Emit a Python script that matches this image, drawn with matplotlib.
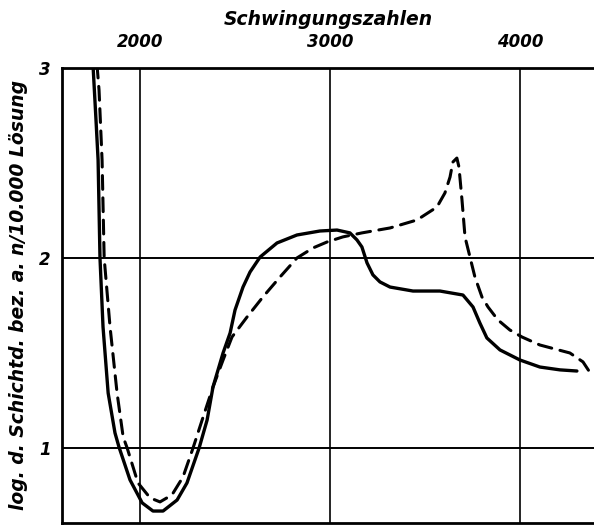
import matplotlib
matplotlib.use("Agg")
import matplotlib.pyplot as plt
from matplotlib.font_manager import FontProperties

# --- data ---
solid_x = [1752, 1768, 1779, 1789, 1805, 1832, 1868, 1889, 1947, 2011, 2068, 2121, 2195, 2247,
           2311, 2353, 2384, 2437, 2474, 2500, 2542, 2579, 2632, 2721, 2826, 2947, 3037, 3105,
           3142, 3168, 3195, 3226, 3263, 3316, 3437, 3579, 3700, 3753, 3789, 3826, 3895, 4000,
           4105, 4211, 4300]
solid_y = [3.02, 2.726, 2.516, 2.0, 1.637, 1.289, 1.079, 1.005, 0.832, 0.711, 0.668, 0.668,
           0.726, 0.816, 1.0, 1.147, 1.321, 1.5, 1.605, 1.726, 1.847, 1.926, 2.005, 2.079,
           2.121, 2.142, 2.147, 2.132, 2.095, 2.058, 1.974, 1.911, 1.874, 1.847, 1.826, 1.826,
           1.805, 1.742, 1.658, 1.579, 1.516, 1.463, 1.426, 1.411, 1.405]

dashed_x = [1773, 1784, 1800, 1811, 1842, 1879, 1911, 1932, 1989, 2053, 2105, 2168, 2226, 2279,
            2332, 2384, 2437, 2484, 2563, 2647, 2737, 2826, 2911, 2984, 3068, 3168, 3316, 3458,
            3563, 3605, 3632, 3647, 3668, 3679, 3695, 3711, 3737, 3763, 3800, 3832, 3884, 3947,
            4011, 4105, 4263, 4332, 4384]
dashed_y = [3.02, 2.884, 2.516, 2.0, 1.637, 1.289, 1.058, 1.0, 0.816, 0.737, 0.716, 0.753,
            0.847, 1.0, 1.163, 1.321, 1.463, 1.584, 1.689, 1.795, 1.9, 2.0, 2.053, 2.084,
            2.111, 2.132, 2.158, 2.2, 2.268, 2.342, 2.426, 2.505, 2.526, 2.479, 2.305, 2.11,
            2.005, 1.9, 1.795, 1.742, 1.674, 1.621, 1.584, 1.542, 1.5, 1.453, 1.374]

x_ticks = [2000, 3000, 4000]
x_tick_labels = ["2000", "3000", "4000"]
y_ticks = [1, 2, 3]
y_tick_labels = ["1", "2", "3"]
title_text = "Schwingungszahlen"
ylabel_text = "log. d. Schichtd. bez. a. n/10.000 Lösung"

W, H = 594, 525
fig = plt.figure(figsize=(W / 100, H / 100), dpi=100)
fig.patch.set_facecolor("white")
ax = fig.add_axes([62 / W, 2 / H, 1 - 62 / W, 455 / H])

fam = ["DejaVu Sans"]
fp_tick = FontProperties(family=fam, style="italic", weight="bold", size=12)
fp_lab = FontProperties(family=fam, style="italic", weight="bold", size=13.5)

for v in x_ticks:
    ax.axvline(v, color="black", lw=1.2, zorder=1)
for v in y_ticks[:-1]:
    ax.axhline(v, color="black", lw=1.4, zorder=1)

ax.plot(solid_x, solid_y, color="black", lw=2.4, solid_joinstyle="round",
        solid_capstyle="round", zorder=3)
ax.plot(dashed_x, dashed_y, color="black", lw=2.2, linestyle=(0, (4.5, 2.8)),
        dash_capstyle="round", dash_joinstyle="round", zorder=3)

ax.set_xlim(1589, 4390)
ax.set_ylim(0.605, 3.0)

ax.xaxis.tick_top()
ax.xaxis.set_label_position("top")
ax.set_xticks(x_ticks)
ax.set_xticklabels(x_tick_labels, fontproperties=fp_tick)
ax.set_yticks(y_ticks)
ax.set_yticklabels(y_tick_labels, fontproperties=fp_tick)
ax.tick_params(axis="both", length=0, pad=8)
ax.tick_params(axis="x", pad=12)

ax.set_xlabel(title_text, fontproperties=fp_lab, labelpad=6)
ax.set_ylabel(ylabel_text, fontproperties=fp_lab, labelpad=8)

for s in ["left", "top", "bottom"]:
    ax.spines[s].set_linewidth(2.0)
ax.spines["right"].set_visible(False)

fig.savefig("out.png", dpi=100, facecolor="white")
